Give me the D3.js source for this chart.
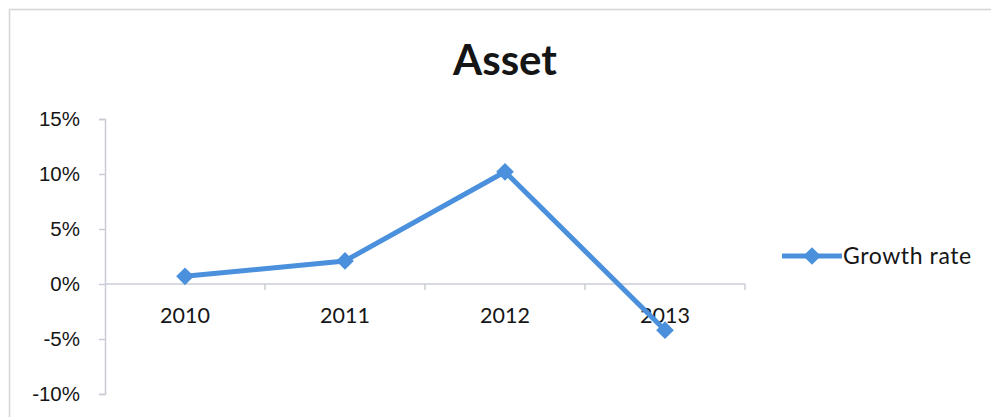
<!DOCTYPE html>
<html>
<head>
<meta charset="utf-8">
<script src="https://cdn.jsdelivr.net/npm/d3@7"></script>
<style>
  body { margin: 0; background: #fff; }
  svg { display: block; font-family: Lato, "Open Sans", sans-serif; }
</style>
</head>
<body>
<div id="chart"></div>
<script>
// data
var years = ["2010", "2011", "2012", "2013"];
var growthRate = [0.7, 2.1, 10.2, -4.2];
var yTicks = [-10, -5, 0, 5, 10, 15];
var seriesName = "Growth rate";
var chartTitle = "Asset";

var W = 991, H = 417;
var lineColour = "#4a90dc";
var axisColour = "#c9ccd6";
var textColour = "#151515";

var svg = d3.select("#chart").append("svg")
  .attr("width", W)
  .attr("height", H);

// chart frame
svg.append("rect")
  .attr("x", 9.5).attr("y", 9.5)
  .attr("width", W + 20).attr("height", H + 20)
  .attr("fill", "none")
  .attr("stroke", "#d4d4d4")
  .attr("stroke-width", 1.5);

// scales
var x = d3.scaleBand().domain(years).range([105, 745]);
var y = d3.scaleLinear().domain([-10, 15]).range([394, 119]);

// title
svg.append("text")
  .attr("x", 505).attr("y", 75)
  .attr("text-anchor", "middle")
  .style("font-size", "42px")
  .style("font-weight", "bold")
  .attr("fill", textColour)
  .text(chartTitle);

// y axis
var yAxis = svg.append("g")
  .attr("transform", "translate(" + x.range()[0] + ",0)")
  .call(d3.axisLeft(y).tickValues(yTicks).tickSize(6).tickPadding(19)
    .tickFormat(function(d) { return d + "%"; }));
yAxis.select(".domain").attr("stroke", axisColour).attr("stroke-width", 1.5);
yAxis.selectAll(".tick line").attr("stroke", axisColour).attr("stroke-width", 1.5);
yAxis.selectAll(".tick text")
  .style("font-size", "20.5px").attr("fill", textColour);

// x axis on the zero line, ticks between categories
var xAxis = svg.append("g")
  .attr("transform", "translate(0," + y(0) + ")");
xAxis.append("line")
  .attr("x1", x.range()[0]).attr("x2", x.range()[1])
  .attr("stroke", axisColour).attr("stroke-width", 1.5);
xAxis.selectAll(".sep")
  .data(years)
  .enter().append("line")
  .attr("class", "sep")
  .attr("x1", function(d) { return x(d) + x.bandwidth(); })
  .attr("x2", function(d) { return x(d) + x.bandwidth(); })
  .attr("y1", 0).attr("y2", 6)
  .attr("stroke", axisColour).attr("stroke-width", 1.5);
xAxis.selectAll(".lbl")
  .data(years)
  .enter().append("text")
  .attr("class", "lbl")
  .attr("x", function(d) { return x(d) + x.bandwidth() / 2; })
  .attr("y", 39)
  .attr("text-anchor", "middle")
  .style("font-size", "21.5px")
  .attr("fill", textColour)
  .text(function(d) { return d; });

// line
var pts = years.map(function(d, i) { return { year: d, value: growthRate[i] }; });
var line = d3.line()
  .x(function(d) { return x(d.year) + x.bandwidth() / 2; })
  .y(function(d) { return y(d.value); });

svg.append("path")
  .datum(pts)
  .attr("d", line)
  .attr("fill", "none")
  .attr("stroke", lineColour)
  .attr("stroke-width", 5)
  .attr("stroke-linejoin", "round");

var diamond = d3.symbol().type(d3.symbolDiamond2).size(200);
svg.selectAll(".pt")
  .data(pts)
  .enter().append("path")
  .attr("class", "pt")
  .attr("transform", function(d) {
    return "translate(" + (x(d.year) + x.bandwidth() / 2) + "," + y(d.value) + ")";
  })
  .attr("d", diamond)
  .attr("fill", lineColour);

// legend
var leg = svg.append("g").attr("transform", "translate(782,256)");
leg.append("line")
  .attr("x1", 0).attr("x2", 60)
  .attr("stroke", lineColour).attr("stroke-width", 5);
leg.append("path")
  .attr("transform", "translate(30,0)")
  .attr("d", diamond)
  .attr("fill", lineColour);
leg.append("text")
  .attr("x", 61).attr("y", 8)
  .style("font-size", "23px")
  .style("letter-spacing", "0.6px")
  .attr("fill", textColour)
  .text(seriesName);
</script>
</body>
</html>
